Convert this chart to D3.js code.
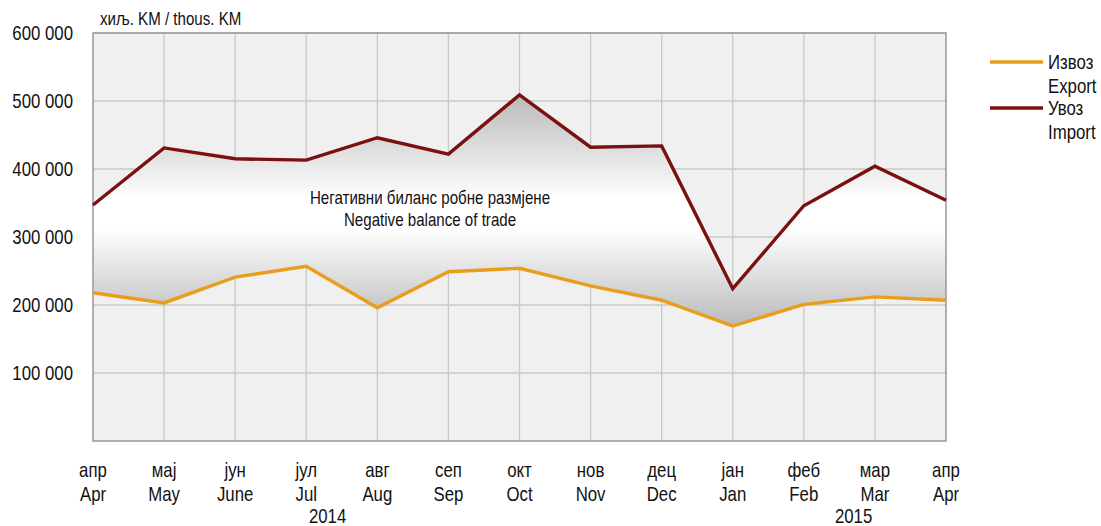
<!DOCTYPE html>
<html><head><meta charset="utf-8">
<script src="https://cdn.jsdelivr.net/npm/d3@7"></script>
<style>
body{margin:0;background:#fff;}
svg text{font-family:"Liberation Sans",Arial,sans-serif;fill:#111;}
</style></head>
<body><svg id="c" width="1101" height="526"></svg>
<script>
const monthsCyr = ["апр","мај","јун","јул","авг","сеп","окт","нов","дец","јан","феб","мар","апр"];
const monthsEng = ["Apr","May","June","Jul","Aug","Sep","Oct","Nov","Dec","Jan","Feb","Mar","Apr"];
const exportVals = [218000,203000,241000,257000,196000,249000,254000,228000,207000,169000,201000,212000,207000];
const importVals = [347000,431000,415000,413000,446000,422000,509000,432000,434000,224000,346000,404000,354000];
const yTicks = [100000,200000,300000,400000,500000,600000];
const years = [{label:"2014",pos:3.3},{label:"2015",pos:10.7}];
const legendItems = [{cyr:"Извоз",eng:"Export",color:"#E89E1C"},{cyr:"Увоз",eng:"Import",color:"#7A1010"}];

const svg = d3.select("#c");
const L=93,R=946,T=33,B=441;
const NARROW = 0.84;
const x = d3.scaleLinear().domain([0,12]).range([L,R]);
const y = d3.scaleLinear().domain([0,600000]).range([B,T]);

function ntext(parent, px, py, str, size, anchor){
  parent.append("text")
    .attr("transform",`translate(${px},${py}) scale(${NARROW},1)`)
    .attr("text-anchor",anchor||"start").attr("font-size",size).text(str);
}

svg.append("rect").attr("x",L).attr("y",T).attr("width",R-L).attr("height",B-T).attr("fill","#f0f0f0");

// grid
svg.append("g").selectAll("line").data(yTicks).join("line")
  .attr("x1",L).attr("x2",R).attr("y1",d=>y(d)).attr("y2",d=>y(d))
  .attr("stroke","#c8c8c8").attr("stroke-width",1.3);
svg.append("g").selectAll("line").data(d3.range(1,12)).join("line")
  .attr("y1",T).attr("y2",B).attr("x1",d=>x(d)).attr("x2",d=>x(d))
  .attr("stroke","#c8c8c8").attr("stroke-width",1.3);

// gradient
const defs = svg.append("defs");
const g = defs.append("linearGradient").attr("id","grad").attr("x1",0).attr("x2",0).attr("y1",0).attr("y2",1);
g.append("stop").attr("offset","0").attr("stop-color","#bababa");
g.append("stop").attr("offset","0.45").attr("stop-color","#ffffff");
g.append("stop").attr("offset","0.58").attr("stop-color","#ffffff");
g.append("stop").attr("offset","1").attr("stop-color","#bababa");

const idx = d3.range(13);
svg.append("path").datum(idx)
  .attr("d", d3.area().x(i=>x(i)).y0(i=>y(exportVals[i])).y1(i=>y(importVals[i])))
  .attr("fill","url(#grad)");

// frame
svg.append("rect").attr("x",L).attr("y",T).attr("width",R-L).attr("height",B-T)
  .attr("fill","none").attr("stroke","#999").attr("stroke-width",1.5);

// lines
const line = vals => d3.line().x(i=>x(i)).y(i=>y(vals[i]))(idx);
svg.append("path").attr("d",line(exportVals)).attr("fill","none").attr("stroke",legendItems[0].color).attr("stroke-width",3.4);
svg.append("path").attr("d",line(importVals)).attr("fill","none").attr("stroke",legendItems[1].color).attr("stroke-width",3.4);

// y labels
const yl = svg.append("g");
yTicks.forEach(d=>ntext(yl,73,y(d)+7,d3.format(",")(d).replace(/,/g," "),20,"end"));

ntext(svg,100,25,"хиљ. KM / thous. KM",18);

// x labels
const xl = svg.append("g");
idx.forEach(i=>{
  ntext(xl,x(i),477,monthsCyr[i],20,"middle");
  ntext(xl,x(i),501,monthsEng[i],20,"middle");
});
years.forEach(d=>ntext(xl,x(d.pos),523,d.label,20,"middle"));

// center label
ntext(svg,430,204,"Негативни биланс робне размјене",18,"middle");
ntext(svg,430,226,"Negative balance of trade",18,"middle");

// legend
legendItems.forEach((d,i)=>{
  const yy = 62+i*46;
  svg.append("line").attr("x1",990).attr("x2",1043).attr("y1",yy).attr("y2",yy).attr("stroke",d.color).attr("stroke-width",3.4);
  ntext(svg,1048,yy+7,d.cyr,20);
  ntext(svg,1048,yy+31,d.eng,20);
});
</script></body></html>
